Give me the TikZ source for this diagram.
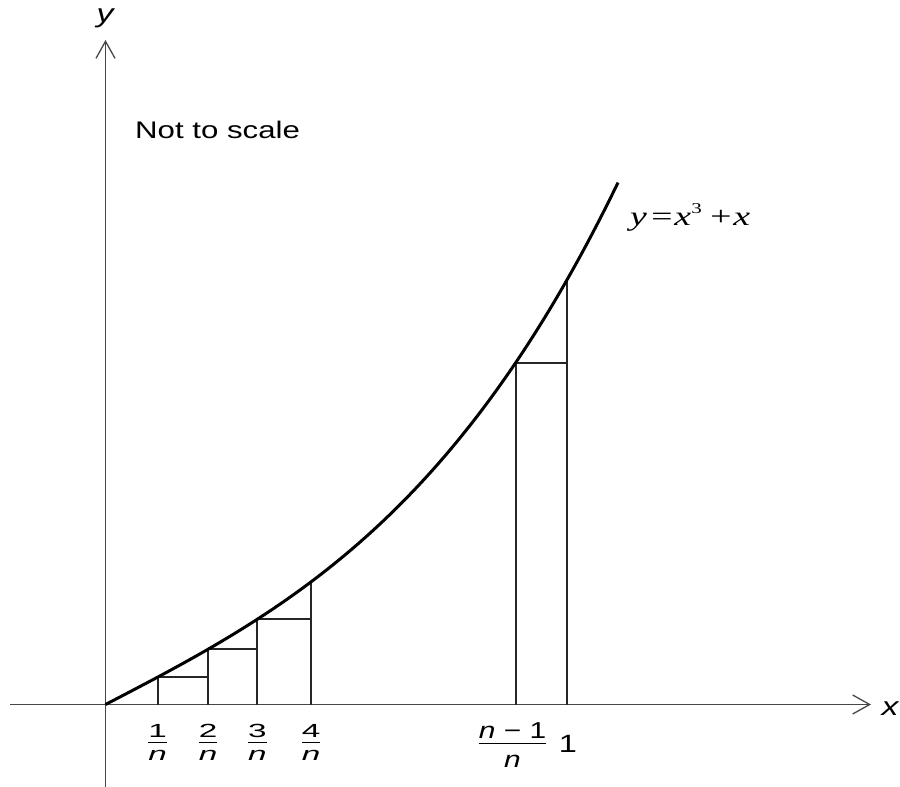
\RequirePackage{fix-cm}
\documentclass[tikz,border=0pt]{standalone}
\usepackage{amsmath}
\usepackage{fontspec}
\setmainfont{Liberation Sans}[FakeStretch=1.3]
\newfontfamily\widesans{Liberation Sans}[FakeStretch=1.75]
\newfontfamily\serifwide{Liberation Serif}[FakeStretch=1.4]
\usetikzlibrary{arrows.meta}
\newcommand\smallfr[1]{$\displaystyle\frac{\raisebox{-2.5pt}[13pt][0pt]{\widesans #1}}{\text{\widesans\itshape n}}$}
\begin{document}
\begin{tikzpicture}[x=1pt,y=-1pt,
  declare function={F(\u)=260*(\u/500)+225*(\u/500)^3+11.6*(\u/500)^5;},
  axisline/.style={line width=1.3pt, draw=black!72, -{Straight Barb[length=17pt,width=19pt]}},
  curveline/.style={line width=3pt, black},
  rectline/.style={line width=1.7pt, black!85},
  smallfrac/.style={inner sep=0pt, anchor=base, font=\fontsize{19}{21}\selectfont},
  bigfrac/.style={inner sep=0pt, anchor=base, font=\fontsize{23}{26}\selectfont},
  axislabel/.style={inner sep=0pt, anchor=base, font=\fontsize{26}{28}\selectfont\itshape}
]
\useasboundingbox (0,0) rectangle (900,787);

% axes
\coordinate (O) at (105.5,704.5);
\coordinate (xl) at (10,704.5);
\coordinate (xr) at (871,704.5);
\coordinate (yb) at (105.5,787);
\coordinate (yt) at (105.5,40);
\draw[axisline] (xl) -- (xr);
\draw[axisline] (yb) -- (yt);

% rectangle points
\coordinate (b1) at (157.7,704.5); \coordinate (t1) at (157.7,{704.5-F(52.2)}); \coordinate (h1) at (208,{704.5-F(52.2)});
\coordinate (b2) at (208,704.5);   \coordinate (t2) at (208,{704.5-F(102.5)});  \coordinate (h2) at (257.3,{704.5-F(102.5)});
\coordinate (b3) at (257.3,704.5); \coordinate (t3) at (257.3,{704.5-F(151.8)}); \coordinate (h3) at (311,{704.5-F(151.8)});
\coordinate (b4) at (311,704.5);   \coordinate (t4) at (311,{704.5-F(205.5)});
\coordinate (bm) at (515.7,704.5); \coordinate (tm) at (515.7,{704.5-F(410.2)}); \coordinate (hm) at (567,{704.5-F(410.2)});
\coordinate (be) at (567,704.5);   \coordinate (te) at (567,{704.5-F(461.5)});

\draw[rectline] (b1) -- (t1) -- (h1);
\draw[rectline] (b2) -- (t2) -- (h2);
\draw[rectline] (b3) -- (t3) -- (h3);
\draw[rectline] (b4) -- (t4);
\draw[rectline] (bm) -- (tm) -- (hm);
\draw[rectline] (be) -- (te);

% curve
\draw[curveline] plot[domain=0:512.5, samples=120, smooth] ({105.5+\x},{704.5-F(\x)});

% labels
\node[axislabel] (ylab) at (105,22) {y};
\node[axislabel] (xlab) at (890,715) {x};
\node[inner sep=0pt, anchor=base west, font=\fontsize{24}{26}\selectfont] (note) at (135,138) {Not to scale};
\node[inner sep=0pt, anchor=base west, font=\fontsize{27}{29}\selectfont\serifwide\itshape] (eq) at (630,225)
  {y\hspace{2pt}=\hspace{0pt}x\raisebox{12pt}{\fontsize{15}{15}\selectfont\upshape 3}\hspace{6pt}+\hspace{0pt}x};

\node[smallfrac] (f1) at (157.7,747.5) {\smallfr{1}};
\node[smallfrac] (f2) at (208,747.5) {\smallfr{2}};
\node[smallfrac] (f3) at (257.3,747.5) {\smallfr{3}};
\node[smallfrac] (f4) at (311,747.5) {\smallfr{4}};
\node[bigfrac] (fm) at (512.5,749.5) {$\displaystyle\frac{\raisebox{-5pt}[17pt][0pt]{\itshape n \upshape − 1}}{\raisebox{-2.5pt}[12pt][0pt]{\itshape n}}$};
\node[inner sep=0pt, anchor=base, font=\fontsize{25}{27}\selectfont] (one) at (568,752) {1};
\end{tikzpicture}
\end{document}
